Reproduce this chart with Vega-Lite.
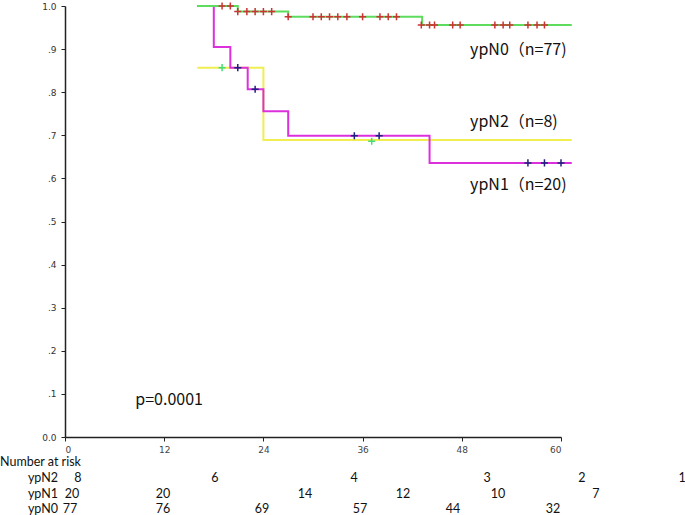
{
  "$schema": "https://vega.github.io/schema/vega-lite/v6.json",
  "width": 496,
  "height": 431,
  "autosize": {"type": "none"},
  "padding": {"left": 65, "top": 6, "right": 124, "bottom": 78},
  "background": "white",
  "config": {"view": {"stroke": null}},
  "datasets": {
    "curves": [
      {"group": "ypN2", "t": 16, "s": 0.857},
      {"group": "ypN2", "t": 24, "s": 0.689},
      {"group": "ypN2", "t": 61.3, "s": 0.689},
      {"group": "ypN1", "t": 16, "s": 1.0},
      {"group": "ypN1", "t": 18, "s": 0.905},
      {"group": "ypN1", "t": 20, "s": 0.857},
      {"group": "ypN1", "t": 22.1, "s": 0.807},
      {"group": "ypN1", "t": 24, "s": 0.756},
      {"group": "ypN1", "t": 27, "s": 0.699},
      {"group": "ypN1", "t": 44.1, "s": 0.636},
      {"group": "ypN1", "t": 61.3, "s": 0.636},
      {"group": "ypN0", "t": 16, "s": 1.0},
      {"group": "ypN0", "t": 20.9, "s": 0.987},
      {"group": "ypN0", "t": 27.0, "s": 0.975},
      {"group": "ypN0", "t": 43.2, "s": 0.956},
      {"group": "ypN0", "t": 61.3, "s": 0.956}
    ],
    "censor": [
      {"group": "ypN2", "t": 19.0, "s": 0.857},
      {"group": "ypN2", "t": 37.1, "s": 0.686},
      {"group": "ypN1", "t": 20.9, "s": 0.857},
      {"group": "ypN1", "t": 23.0, "s": 0.807},
      {"group": "ypN1", "t": 35.0, "s": 0.699},
      {"group": "ypN1", "t": 38.0, "s": 0.699},
      {"group": "ypN1", "t": 56.0, "s": 0.636},
      {"group": "ypN1", "t": 58.0, "s": 0.636},
      {"group": "ypN1", "t": 60.0, "s": 0.636},
      {"group": "ypN0", "t": 19.0, "s": 1.0},
      {"group": "ypN0", "t": 20.0, "s": 1.0},
      {"group": "ypN0", "t": 20.9, "s": 0.987},
      {"group": "ypN0", "t": 22.0, "s": 0.987},
      {"group": "ypN0", "t": 23.0, "s": 0.987},
      {"group": "ypN0", "t": 24.0, "s": 0.987},
      {"group": "ypN0", "t": 25.0, "s": 0.987},
      {"group": "ypN0", "t": 27.0, "s": 0.975},
      {"group": "ypN0", "t": 30.0, "s": 0.975},
      {"group": "ypN0", "t": 31.0, "s": 0.975},
      {"group": "ypN0", "t": 32.0, "s": 0.975},
      {"group": "ypN0", "t": 33.0, "s": 0.975},
      {"group": "ypN0", "t": 34.1, "s": 0.975},
      {"group": "ypN0", "t": 36.0, "s": 0.975},
      {"group": "ypN0", "t": 38.1, "s": 0.975},
      {"group": "ypN0", "t": 39.1, "s": 0.975},
      {"group": "ypN0", "t": 40.1, "s": 0.975},
      {"group": "ypN0", "t": 43.1, "s": 0.956},
      {"group": "ypN0", "t": 44.1, "s": 0.956},
      {"group": "ypN0", "t": 44.7, "s": 0.956},
      {"group": "ypN0", "t": 46.9, "s": 0.956},
      {"group": "ypN0", "t": 47.8, "s": 0.956},
      {"group": "ypN0", "t": 52.0, "s": 0.956},
      {"group": "ypN0", "t": 53.0, "s": 0.956},
      {"group": "ypN0", "t": 53.8, "s": 0.956},
      {"group": "ypN0", "t": 56.0, "s": 0.956},
      {"group": "ypN0", "t": 57.1, "s": 0.956},
      {"group": "ypN0", "t": 58.0, "s": 0.956}
    ],
    "labels": [
      {"label": "ypN0（n=77)", "t": 49.0, "s": 0.898},
      {"label": "ypN2（n=8)", "t": 49.0, "s": 0.731},
      {"label": "ypN1（n=20)", "t": 49.0, "s": 0.585},
      {"label": "p=0.0001", "t": 8.5, "s": 0.086}
    ],
    "risk": [
      {"kind": "head", "label": "Number at risk", "t": -7.86, "s": -0.058},
      {"kind": "row", "label": "ypN2", "t": -0.85, "s": -0.095},
      {"kind": "row", "label": "ypN1", "t": -0.85, "s": -0.132},
      {"kind": "row", "label": "ypN0", "t": -0.85, "s": -0.167},
      {"kind": "num", "label": "8", "t": 1.57, "s": -0.095},
      {"kind": "num", "label": "6", "t": 18.14, "s": -0.095},
      {"kind": "num", "label": "4", "t": 34.96, "s": -0.095},
      {"kind": "num", "label": "3", "t": 51.05, "s": -0.095},
      {"kind": "num", "label": "2", "t": 62.54, "s": -0.095},
      {"kind": "num", "label": "1", "t": 74.64, "s": -0.095},
      {"kind": "num", "label": "20", "t": 0.85, "s": -0.132},
      {"kind": "num", "label": "20", "t": 11.85, "s": -0.132},
      {"kind": "num", "label": "14", "t": 29.03, "s": -0.132},
      {"kind": "num", "label": "12", "t": 40.89, "s": -0.132},
      {"kind": "num", "label": "10", "t": 52.38, "s": -0.132},
      {"kind": "num", "label": "7", "t": 64.23, "s": -0.132},
      {"kind": "num", "label": "77", "t": 0.6, "s": -0.167},
      {"kind": "num", "label": "76", "t": 11.85, "s": -0.167},
      {"kind": "num", "label": "69", "t": 23.83, "s": -0.167},
      {"kind": "num", "label": "57", "t": 35.69, "s": -0.167},
      {"kind": "num", "label": "44", "t": 46.94, "s": -0.167},
      {"kind": "num", "label": "32", "t": 59.03, "s": -0.167}
    ]
  },
  "layer": [
    {
      "data": {"name": "curves"},
      "mark": {"type": "line", "interpolate": "step-after", "strokeWidth": 2, "clip": false},
      "encoding": {
        "x": {
          "field": "t", "type": "quantitative",
          "scale": {"domain": [0, 60], "nice": false, "zero": false},
          "axis": {
            "title": null, "values": [0, 12, 24, 36, 48, 60], "grid": false,
            "domainColor": "#222", "domainWidth": 1.5, "tickColor": "#222", "tickSize": 4,
            "labelFont": "DejaVu Sans", "labelFontSize": 9, "labelColor": "#444", "labelPadding": 4
          }
        },
        "y": {
          "field": "s", "type": "quantitative",
          "scale": {"domain": [0, 1], "nice": false},
          "axis": {
            "title": null, "values": [0, 0.1, 0.2, 0.3, 0.4, 0.5, 0.6, 0.7, 0.8, 0.9, 1], "grid": false,
            "domainColor": "#222", "domainWidth": 1.5, "tickColor": "#222", "tickSize": 4,
            "labelFont": "DejaVu Sans", "labelFontSize": 9, "labelColor": "#333", "labelPadding": 5,
            "labelExpr": "datum.value >= 0.999 ? '1.0' : datum.value < 0.001 ? '0.0' : replace(format(datum.value, '.1f'), '0.', '.')"
          }
        },
        "color": {
          "field": "group", "type": "nominal", "legend": null,
          "scale": {"domain": ["ypN2", "ypN1", "ypN0"], "range": ["#f0ee50", "#dd30dd", "#5ddc5d"]}
        },
        "order": {"field": "t", "type": "quantitative"},
        "detail": {"field": "group"}
      }
    },
    {
      "data": {"name": "censor"},
      "mark": {"type": "point", "shape": "M-1,0L1,0M0,-1L0,1", "filled": false, "strokeWidth": 1.5, "size": 50, "opacity": 1, "clip": false},
      "encoding": {
        "x": {"field": "t", "type": "quantitative"},
        "y": {"field": "s", "type": "quantitative"},
        "stroke": {
          "field": "group", "type": "nominal", "legend": null,
          "scale": {"domain": ["ypN2", "ypN1", "ypN0"], "range": ["#44dd77", "#202080", "#cc3333"]}
        }
      }
    },
    {
      "data": {"name": "labels"},
      "mark": {"type": "text", "align": "left", "baseline": "middle", "font": "Noto Sans CJK JP", "fontSize": 16, "color": "#111"},
      "encoding": {
        "x": {"field": "t", "type": "quantitative"},
        "y": {"field": "s", "type": "quantitative"},
        "text": {"field": "label"}
      }
    },
    {
      "data": {"name": "risk"},
      "transform": [{"filter": "datum.kind == 'head'"}],
      "mark": {"type": "text", "align": "left", "baseline": "middle", "font": "Lato", "fontSize": 12.5, "color": "#111"},
      "encoding": {
        "x": {"field": "t", "type": "quantitative"},
        "y": {"field": "s", "type": "quantitative"},
        "text": {"field": "label"}
      }
    },
    {
      "data": {"name": "risk"},
      "transform": [{"filter": "datum.kind == 'row'"}],
      "mark": {"type": "text", "align": "right", "baseline": "middle", "font": "Lato", "fontSize": 12.5, "color": "#111"},
      "encoding": {
        "x": {"field": "t", "type": "quantitative"},
        "y": {"field": "s", "type": "quantitative"},
        "text": {"field": "label"}
      }
    },
    {
      "data": {"name": "risk"},
      "transform": [{"filter": "datum.kind == 'num'"}],
      "mark": {"type": "text", "align": "center", "baseline": "middle", "font": "Lato", "fontSize": 12.5, "color": "#111"},
      "encoding": {
        "x": {"field": "t", "type": "quantitative"},
        "y": {"field": "s", "type": "quantitative"},
        "text": {"field": "label"}
      }
    }
  ]
}
